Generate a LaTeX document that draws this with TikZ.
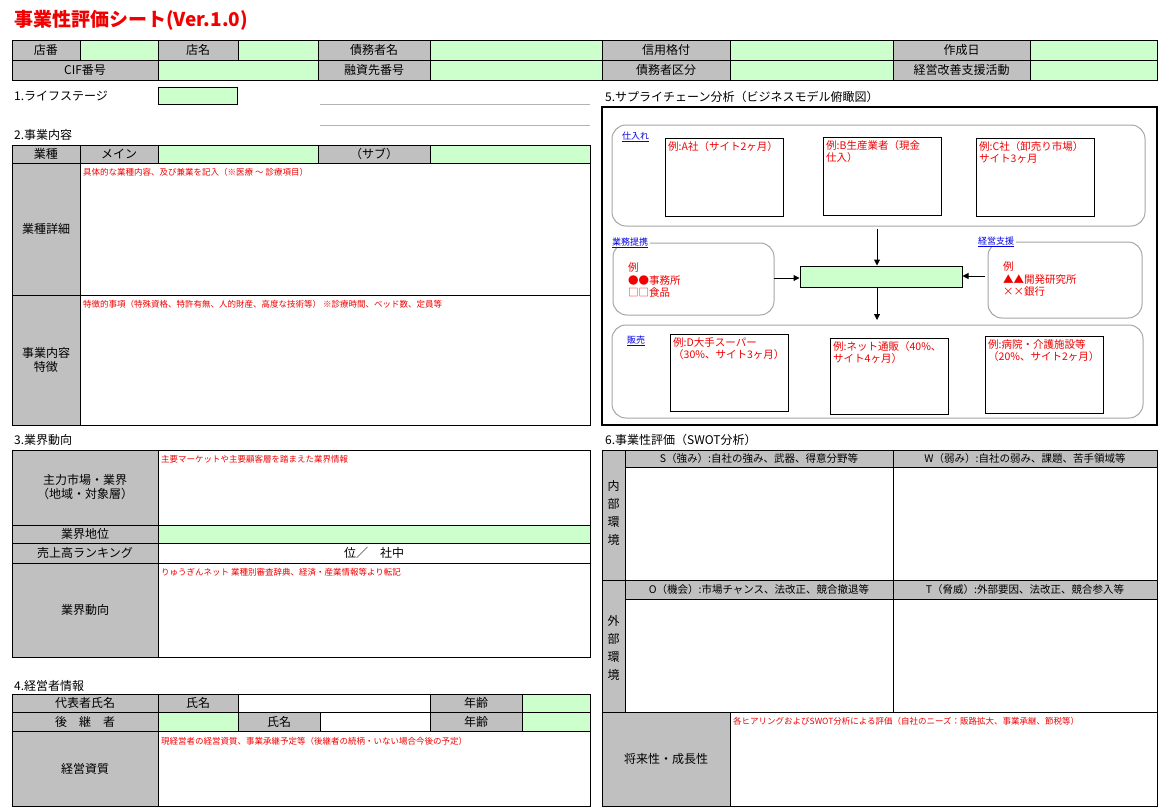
\documentclass[tikz,border=0pt]{standalone}
\usepackage{fontspec}
\setmainfont{Noto Sans CJK JP}
\usetikzlibrary{arrows.meta,positioning}
\definecolor{cellgreen}{RGB}{204,255,204}
\definecolor{cellgray}{RGB}{192,192,192}
\definecolor{notered}{RGB}{240,0,0}
\definecolor{linkblue}{RGB}{0,0,230}
\tikzset{
  gcell/.style={draw=black,line width=1pt,fill=cellgray},
  ecell/.style={draw=black,line width=1pt,fill=cellgreen},
  wcell/.style={draw=black,line width=1pt,fill=white},
  txt/.style={font=\fontsize{12}{14}\selectfont,align=center,inner sep=0pt},
  note/.style={font=\fontsize{8.5}{11}\selectfont,text=notered,anchor=north west,inner sep=0pt,align=left},
  head/.style={font=\fontsize{12}{14}\selectfont,anchor=west,inner sep=0pt},
  roundbox/.style={draw=gray!70,line width=1pt,rounded corners=14pt},
  exbox/.style={draw=black,line width=1pt},
  extxt/.style={font=\fontsize{10.5}{12.5}\selectfont,text=notered,anchor=north west,inner sep=0pt,align=left},
  link/.style={font=\fontsize{9}{11}\selectfont,text=linkblue,anchor=west,inner sep=0pt,fill=white,inner xsep=2pt},
  flow/.style={-{Triangle[length=6pt,width=6pt]},line width=1pt}
}
% cell: x1 y1 x2 y2 style text
\newcommand\cell[6]{\draw[#5] (#1,#2) rectangle (#3,#4);
  \node[txt] at ({(#1+#3)/2},{(#2+#4)/2}) {#6};}
\begin{document}
\begin{tikzpicture}[x=1pt,y=-1pt]
\useasboundingbox[fill=white] (0,0) rectangle (1165,811);
\node[anchor=west,inner sep=0pt,text=notered,font=\bfseries\fontsize{19}{22}\selectfont] (title) at (14,20) {事業性評価シート(Ver.1.0)};

% header
\cell{12}{40}{80}{60}{gcell}{店番}
\cell{80}{40}{158}{60}{ecell}{}
\cell{158}{40}{238}{60}{gcell}{店名}
\cell{238}{40}{318}{60}{ecell}{}
\cell{318}{40}{430}{60}{gcell}{債務者名}
\cell{430}{40}{602}{60}{ecell}{}
\cell{602}{40}{730}{60}{gcell}{信用格付}
\cell{730}{40}{893}{60}{ecell}{}
\cell{893}{40}{1030}{60}{gcell}{作成日}
\cell{1030}{40}{1157}{60}{ecell}{}
\cell{12}{60}{158}{80}{gcell}{CIF番号}
\cell{158}{60}{318}{80}{ecell}{}
\cell{318}{60}{430}{80}{gcell}{融資先番号}
\cell{430}{60}{602}{80}{ecell}{}
\cell{602}{60}{730}{80}{gcell}{債務者区分}
\cell{730}{60}{893}{80}{ecell}{}
\cell{893}{60}{1030}{80}{gcell}{経営改善支援活動}
\cell{1030}{60}{1157}{80}{ecell}{}

% 1
\node[head] (s1) at (14,96) {1.ライフステージ};
\cell{158}{87}{237}{104}{ecell}{}
\draw[gray!60,line width=1pt] (320,104) -- (590,104) (320,125) -- (590,125);

% 2
\node[head] (s2) at (14,135) {2.事業内容};
\cell{12}{145}{80}{163}{gcell}{業種}
\cell{80}{145}{158}{163}{gcell}{メイン}
\cell{158}{145}{318}{163}{ecell}{}
\cell{318}{145}{430}{163}{gcell}{（サブ）}
\cell{430}{145}{590}{163}{ecell}{}
\cell{12}{163}{80}{295}{gcell}{業種詳細}
\cell{80}{163}{590}{295}{wcell}{}
\node[note] at (83,168) {具体的な業種内容、及び兼業を記入（※医療 〜 診療項目）};
\cell{12}{295}{80}{425}{gcell}{事業内容\\特徴}
\cell{80}{295}{590}{425}{wcell}{}
\node[note] at (83,300) {特徴的事項（特殊資格、特許有無、人的財産、高度な技術等） ※診療時間、ベッド数、定員等};

% 3
\node[head] (s3) at (14,440) {3.業界動向};
\cell{12}{450}{158}{525}{gcell}{主力市場・業界\\（地域・対象層）}
\cell{158}{450}{590}{525}{wcell}{}
\node[note] at (161,455) {主要マーケットや主要顧客層を踏まえた業界情報};
\cell{12}{525}{158}{543}{gcell}{業界地位}
\cell{158}{525}{590}{543}{ecell}{}
\cell{12}{543}{158}{563}{gcell}{売上高ランキング}
\cell{158}{543}{590}{563}{wcell}{位／\quad 社中}
\cell{12}{563}{158}{657}{gcell}{業界動向}
\cell{158}{563}{590}{657}{wcell}{}
\node[note] at (161,568) {りゅうぎんネット 業種別審査辞典、経済・産業情報等より転記};

% 4
\node[head] (s4) at (14,686) {4.経営者情報};
\cell{12}{694}{158}{712}{gcell}{代表者氏名}
\cell{158}{694}{238}{712}{gcell}{氏名}
\cell{238}{694}{430}{712}{wcell}{}
\cell{430}{694}{522}{712}{gcell}{年齢}
\cell{522}{694}{590}{712}{ecell}{}
\cell{12}{712}{158}{731}{gcell}{後\quad 継\quad 者}
\cell{158}{712}{238}{731}{ecell}{}
\cell{238}{712}{320}{731}{gcell}{氏名}
\cell{320}{712}{430}{731}{wcell}{}
\cell{430}{712}{522}{731}{gcell}{年齢}
\cell{522}{712}{590}{731}{ecell}{}
\cell{12}{731}{158}{806}{gcell}{経営資質}
\cell{158}{731}{590}{806}{wcell}{}
\node[note] at (161,737) {現経営者の経営資質、事業承継予定等（後継者の続柄・いない場合今後の予定）};

% 5
\node[head] (s5) at (605,97) {5.サプライチェーン分析（ビジネスモデル俯瞰図）};
\draw[line width=1.2pt] (602,107) rectangle (1157,425);
\draw[roundbox] (612,125) rectangle (1145,226);
\node[link] at (620,137) {\underline{仕入れ}};
\draw[exbox] (665,138) rectangle (783,216);
\node[extxt] at (668,141) {例:A社（サイト2ヶ月）};
\draw[exbox] (823,137) rectangle (941,215);
\node[extxt] at (826,140) {例:B生産業者（現金\\仕入）};
\draw[exbox] (976,138) rectangle (1094,216);
\node[extxt] at (979,141) {例:C社（卸売り市場）\\サイト3ヶ月};

\draw[roundbox] (613,243) rectangle (774,315);
\node[link] at (610,243) {\underline{業務提携}};
\node[extxt] (partner) at (628,263) {例\\●●事務所\\□□食品};
\draw[roundbox] (988,242) rectangle (1142,318);
\node[link] at (976,242) {\underline{経営支援}};
\node[extxt] (support) at (1003,262) {例\\▲▲開発研究所\\××銀行};

\node[draw,line width=1pt,fill=cellgreen,minimum width=162pt,minimum height=21pt,inner sep=0pt] (core) at (881,276.5) {};
\coordinate (intop) at (877,229);
\coordinate (inleft) at (774,278);
\coordinate (inright) at (985,276);
\coordinate (outbot) at (877,320);
\draw[flow] (intop) -- (intop |- core.north);
\draw[flow] (inleft) -- (core.west |- inleft);
\draw[flow] (inright) -- (core.east |- inright);
\draw[flow] (outbot |- core.south) -- (outbot);

\draw[roundbox] (612,325) rectangle (1143,418);
\node[link] at (625,341) {\underline{販売}};
\draw[exbox] (670,334) rectangle (788,411);
\node[extxt] at (673,337) {例:D大手スーパー\\（30\%、サイト3ヶ月）};
\draw[exbox] (830,338) rectangle (948,414);
\node[extxt] at (833,341) {例:ネット通販（40\%、\\サイト4ヶ月）};
\draw[exbox] (985,336) rectangle (1103,413);
\node[extxt] at (988,339) {例:病院・介護施設等\\（20\%、サイト2ヶ月）};

% 6
\node[head] (s6) at (605,440) {6.事業性評価（SWOT分析）};
\cell{602}{450}{625}{712}{gcell}{}
\cell{625}{450}{893}{467}{gcell}{}
\node[inner sep=0pt,font=\fontsize{10.5}{12}\selectfont] at (759,458.5) {S（強み）:自社の強み、武器、得意分野等};
\cell{893}{450}{1157}{467}{gcell}{}
\node[inner sep=0pt,font=\fontsize{10.5}{12}\selectfont] at (1025,458.5) {W（弱み）:自社の弱み、課題、苦手領域等};
\cell{625}{467}{893}{580}{wcell}{}
\cell{893}{467}{1157}{580}{wcell}{}
\cell{625}{580}{893}{599}{gcell}{}
\node[inner sep=0pt,font=\fontsize{10.5}{12}\selectfont] at (759,589.5) {O（機会）:市場チャンス、法改正、競合撤退等};
\cell{893}{580}{1157}{599}{gcell}{}
\node[inner sep=0pt,font=\fontsize{10.5}{12}\selectfont] at (1025,589.5) {T（脅威）:外部要因、法改正、競合参入等};
\cell{625}{599}{893}{712}{wcell}{}
\cell{893}{599}{1157}{712}{wcell}{}
\draw[line width=1pt] (602,580) -- (625,580);
\node[txt,font=\fontsize{12}{18}\selectfont] at (613.5,513) {内\\部\\環\\境};
\node[txt,font=\fontsize{12}{18}\selectfont] at (613.5,648) {外\\部\\環\\境};
\cell{602}{712}{730}{806}{gcell}{将来性・成長性}
\cell{730}{712}{1157}{806}{wcell}{}
\node[note] at (733,717) {各ヒアリングおよびSWOT分析による評価（自社のニーズ：販路拡大、事業承継、節税等）};
\end{tikzpicture}
\end{document}
